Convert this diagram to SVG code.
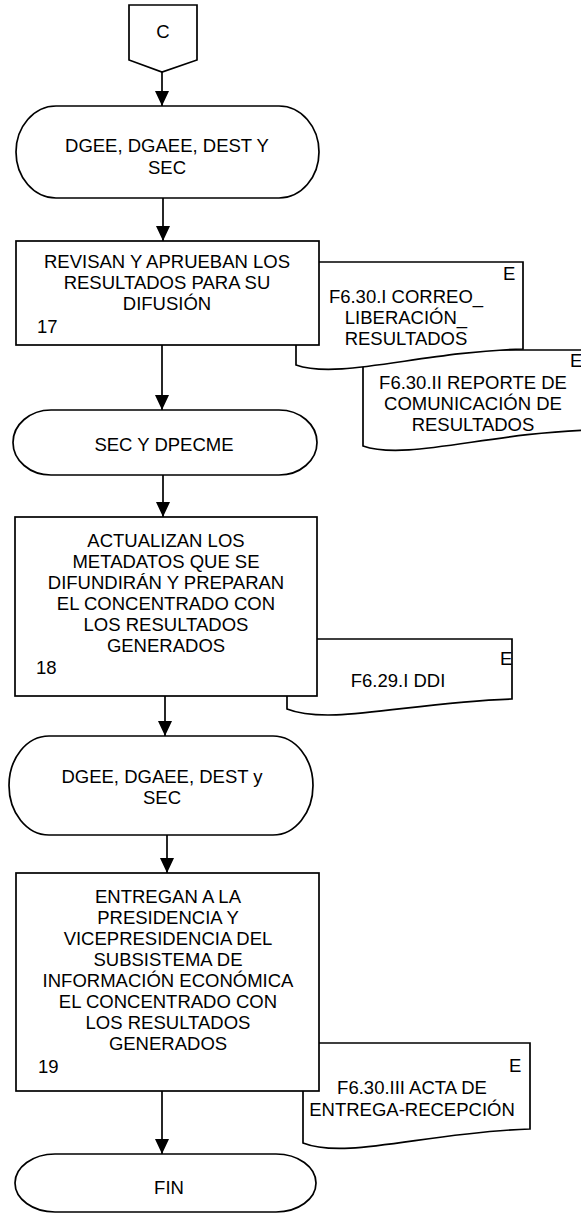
<svg xmlns="http://www.w3.org/2000/svg" width="581" height="1214" viewBox="0 0 581 1214">
<style>
.s{fill:#fff;stroke:#000;stroke-width:1.7}
.t{font-family:"Liberation Sans",Arial,sans-serif;font-size:18.5px;fill:#000}
.m{text-anchor:middle}
.c{fill:none;stroke:#000;stroke-width:1.7}
</style>
<defs>
<marker id="ah" markerUnits="userSpaceOnUse" markerWidth="15" markerHeight="14" viewBox="0 0 15 14" refX="15" refY="7" orient="auto">
<path d="M0,0 L15,7 L0,14 Z" fill="#000"/>
</marker>
</defs>
<rect width="581" height="1214" fill="#fff"/>

<g id="doc2">
<path class="s" d="M363,350 H590 V430 C488,433 406,461 363,446 Z"/>
<text class="t" x="570" y="367">E</text>
<text class="t m" x="473" y="389">F6.30.II REPORTE DE</text>
<text class="t m" x="473" y="410">COMUNICACIÓN DE</text>
<text class="t m" x="473" y="431">RESULTADOS</text>
</g>
<g id="doc1">
<path class="s" d="M296,262 H523 V349 C421,352 339,380 296,365 Z"/>
<text class="t" x="503" y="280">E</text>
<text class="t m" x="406" y="303">F6.30.I CORREO_</text>
<text class="t m" x="406" y="324">LIBERACIÓN_</text>
<text class="t m" x="406" y="345">RESULTADOS</text>
</g>
<g id="doc3">
<path class="s" d="M287,639 H512 V699 C411,702 330,726 287,709 Z"/>
<text class="t" x="500" y="665">E</text>
<text class="t m" x="398" y="687">F6.29.I DDI</text>
</g>
<g id="doc4">
<path class="s" d="M303,1043 H530 V1129 C428,1132 346,1160 303,1143 Z"/>
<text class="t" x="509" y="1072">E</text>
<text class="t m" x="412" y="1094">F6.30.III ACTA DE</text>
<text class="t m" x="412" y="1116">ENTREGA-RECEPCIÓN</text>
</g>

<g id="connectors">
<line class="c" x1="162" y1="72" x2="162" y2="106" marker-end="url(#ah)"/>
<line class="c" x1="163" y1="198" x2="163" y2="241" marker-end="url(#ah)"/>
<line class="c" x1="162" y1="345" x2="162" y2="410" marker-end="url(#ah)"/>
<line class="c" x1="163" y1="475" x2="163" y2="517" marker-end="url(#ah)"/>
<line class="c" x1="165" y1="696" x2="165" y2="736" marker-end="url(#ah)"/>
<line class="c" x1="167" y1="835" x2="167" y2="873" marker-end="url(#ah)"/>
<line class="c" x1="162" y1="1091" x2="162" y2="1154" marker-end="url(#ah)"/>
</g>

<g id="connC">
<path class="s" d="M129,5 H197 V60 L162,72 L129,60 Z"/>
<text class="t m" x="163" y="38">C</text>
</g>
<g id="term1">
<rect class="s" x="16" y="106" width="303" height="92" rx="40" ry="46"/>
<text class="t m" x="167" y="152">DGEE, DGAEE, DEST Y</text>
<text class="t m" x="167" y="174">SEC</text>
</g>
<g id="step17">
<rect class="s" x="16" y="241" width="303" height="104"/>
<text class="t m" x="167" y="268">REVISAN Y APRUEBAN LOS</text>
<text class="t m" x="167" y="289">RESULTADOS PARA SU</text>
<text class="t m" x="167" y="310">DIFUSIÓN</text>
<text class="t" x="37" y="333">17</text>
</g>
<g id="term2">
<rect class="s" x="13" y="410" width="304" height="65" rx="38" ry="32.5"/>
<text class="t m" x="164" y="451">SEC Y DPECME</text>
</g>
<g id="step18">
<rect class="s" x="15" y="517" width="302" height="179"/>
<text class="t m" x="166" y="547">ACTUALIZAN LOS</text>
<text class="t m" x="166" y="568">METADATOS QUE SE</text>
<text class="t m" x="166" y="589">DIFUNDIRÁN Y PREPARAN</text>
<text class="t m" x="166" y="610">EL CONCENTRADO CON</text>
<text class="t m" x="166" y="631">LOS RESULTADOS</text>
<text class="t m" x="166" y="652">GENERADOS</text>
<text class="t" x="36" y="674">18</text>
</g>
<g id="term3">
<rect class="s" x="9" y="736" width="304" height="99" rx="40" ry="49.5"/>
<text class="t m" x="162" y="783">DGEE, DGAEE, DEST y</text>
<text class="t m" x="162" y="804">SEC</text>
</g>
<g id="step19">
<rect class="s" x="16" y="873" width="303" height="218"/>
<text class="t m" x="168" y="903">ENTREGAN A LA</text>
<text class="t m" x="168" y="924">PRESIDENCIA Y</text>
<text class="t m" x="168" y="945">VICEPRESIDENCIA DEL</text>
<text class="t m" x="168" y="966">SUBSISTEMA DE</text>
<text class="t m" x="168" y="987">INFORMACIÓN ECONÓMICA</text>
<text class="t m" x="168" y="1008">EL CONCENTRADO CON</text>
<text class="t m" x="168" y="1029">LOS RESULTADOS</text>
<text class="t m" x="168" y="1050">GENERADOS</text>
<text class="t" x="38" y="1073">19</text>
</g>
<g id="fin">
<rect class="s" x="15" y="1154" width="301" height="58" rx="40" ry="29"/>
<text class="t m" x="169" y="1194">FIN</text>
</g>
</svg>
